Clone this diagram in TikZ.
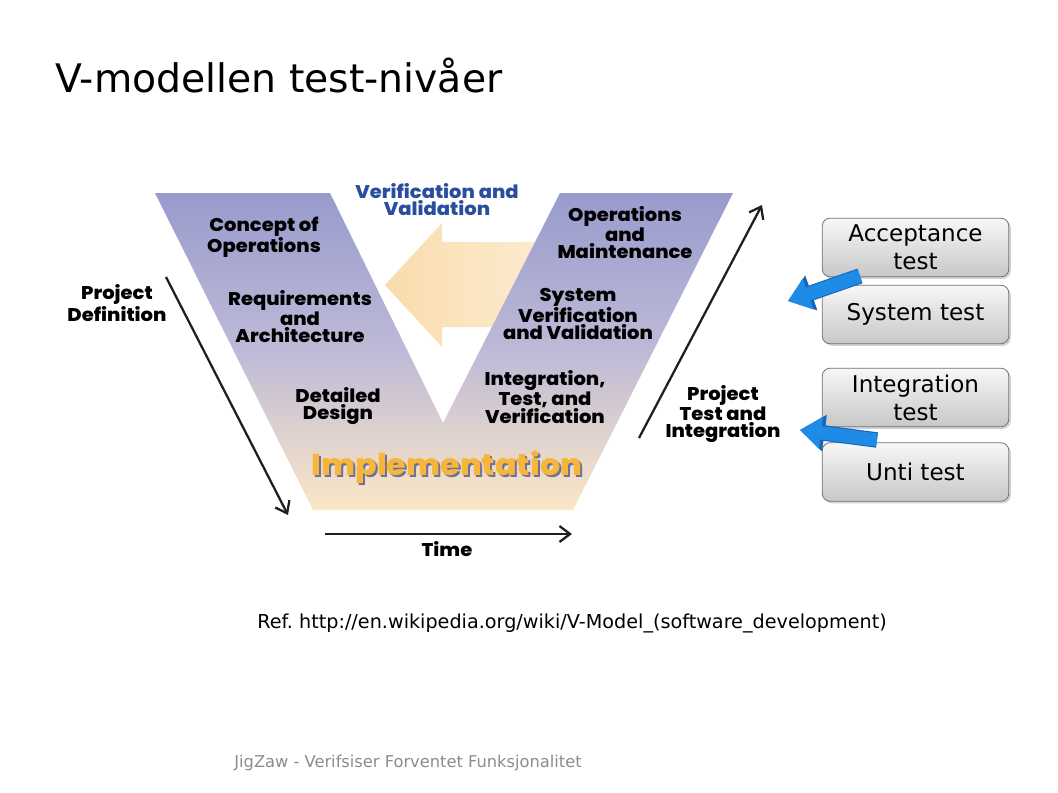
\documentclass[tikz,border=0pt]{standalone}
\usepackage{fontspec}
\setmainfont{DejaVu Sans}
\newfontfamily\vfont[FakeStretch=1.06,BoldFont={Poppins ExtraBold}]{Poppins}
\usetikzlibrary{arrows.meta,shadows}
\definecolor{vtop}{HTML}{989BCD}
\definecolor{vmid}{HTML}{BEBAD7}
\definecolor{vbot}{HTML}{FCE7C6}
\definecolor{vvarrowL}{HTML}{FADCAC}
\definecolor{vvarrowR}{HTML}{FCEDD4}
\definecolor{vvblue}{HTML}{2A4E9E}
\definecolor{implcol}{HTML}{F6B63C}
\definecolor{implshadow}{HTML}{6E719C}
\definecolor{bluearr}{HTML}{1E8CE6}
\definecolor{bluearrdark}{HTML}{1565B8}
\definecolor{footgray}{HTML}{8C8C8C}
\tikzset{
  vlabel/.style={font=\vfont\bfseries\fontsize{13.8}{12.8}\selectfont, align=center, text=black, inner sep=0pt},
  phase/.style={draw=black!88, line width=1.7pt, -{Straight Barb[length=8pt,width=12pt,line width=1.7pt]}},
  testbox/.style={draw=black!55, line width=0.6pt, rounded corners=6pt, top color=black!3, bottom color=black!22,
    minimum width=140pt, minimum height=44pt, inner sep=2pt, align=center,
    font=\fontsize{17.3}{21}\selectfont,
    drop shadow={opacity=0.35, shadow xshift=1.5pt, shadow yshift=-1.5pt}},
  blockedge/.style={draw=bluearrdark, line width=11.6pt, -{Triangle[length=18.5pt,width=26.5pt]}},
  blockarrow/.style={draw=bluearr, line width=10pt, -{Triangle[length=16pt,width=23.5pt]}},
}
\begin{document}
\begin{tikzpicture}[x=0.75pt,y=-0.75pt]
\useasboundingbox (0,0) rectangle (1058,793);
\fill[white] (0,0) rectangle (1058,793);

% title
\node[anchor=base west, inner sep=0pt, font=\fontsize{29.5}{34}\selectfont] (title) at (55,92) {V-modellen test-nivåer};

% pale V&V arrow (behind V)
\shade[left color=vvarrowL, right color=vvarrowR] (385,285) -- (442,223) -- (442,242) -- (560,242) -- (560,327) -- (442,327) -- (442,347) -- cycle;

% the V
\shade[top color=vtop, bottom color=vbot, middle color=vmid]
  (155,193) -- (330,193) -- (443,423) -- (560,193) -- (733,193) -- (573,510) -- (313,510) -- cycle;

% V&V label
\node[font=\vfont\bfseries\fontsize{13.8}{12.8}\selectfont, text=vvblue, align=center, inner sep=0pt] (vv) at (437,200) {Verification and\\Validation};

% V labels
\node[vlabel] (conops) at (264,237) {Concept of\\Operations};
\node[vlabel] (reqarch) at (300,317) {Requirements\\and\\Architecture};
\node[vlabel] (detdes) at (338,406) {Detailed\\Design};
\node[vlabel] (opmaint) at (625,233) {Operations\\and\\Maintenance};
\node[vlabel] (sysvv) at (578,314) {System\\Verification\\and Validation};
\node[vlabel] (inttv) at (545,397) {Integration,\\Test, and\\Verification};
\node[vlabel] (pdef) at (117,303) {Project\\Definition};
\node[vlabel] (ptest) at (723,414) {Project\\Test and\\Integration};
\node[vlabel] (time) at (447,549) {Time};

% Implementation
\node[font=\vfont\bfseries\fontsize{22.5}{24}\selectfont, text=implshadow, inner sep=0pt] at (449,469) {Implementation};
\node[font=\vfont\bfseries\fontsize{22.5}{24}\selectfont, text=implcol, inner sep=0pt] (impl) at (447,467) {Implementation};

% phase arrows
\coordinate (pd1) at (166,277);
\coordinate (pd2) at (288,515);
\coordinate (t1) at (325,534);
\coordinate (t2) at (572,534);
\coordinate (pt1) at (639,438);
\coordinate (pt2) at (762,205);
\draw[phase] (pd1) -- (pd2);
\draw[phase] (t1) -- (t2);
\draw[phase] (pt1) -- (pt2);

% test level boxes
\node[testbox] (acc) at (915.5,247.5) {Acceptance\\test};
\node[testbox] (sys) at (915.5,314.5) {System test};
\node[testbox] (integ) at (915.5,397.5) {Integration\\test};
\node[testbox] (unit) at (915.5,472) {Unti test};

% blue arrows
\coordinate (a1s) at (860,276);
\coordinate (a1e) at (788,301);
\coordinate (a2s) at (877,440);
\coordinate (a2e) at (800,430);
\draw[blockedge] (a1s) -- (a1e);
\draw[blockarrow] (a1s) -- (a1e);
\draw[blockedge] (a2s) -- (a2e);
\draw[blockarrow] (a2s) -- (a2e);

% reference and footer
\node[font=\fontsize{14.4}{17}\selectfont, inner sep=0pt] (ref) at (572,623) {Ref.\ http://en.wikipedia.org/wiki/V-Model\_(software\_development)};
\node[font=\fontsize{12.2}{14}\selectfont, text=footgray, inner sep=0pt] (foot) at (408,763) {JigZaw - Verifsiser Forventet Funksjonalitet};
\end{tikzpicture}
\end{document}
